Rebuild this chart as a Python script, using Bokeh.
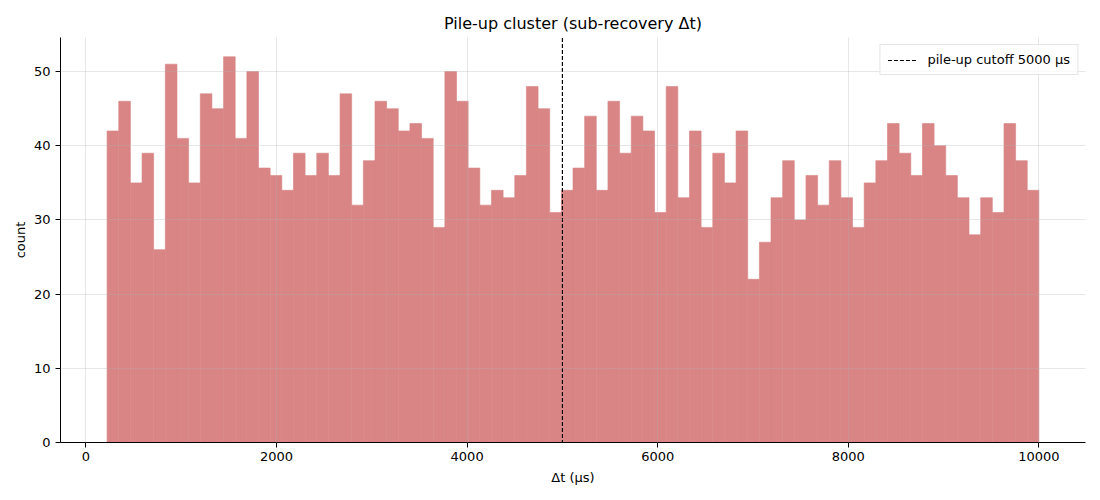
import numpy as np
from bokeh.plotting import figure
from bokeh.models import Range1d, FixedTicker, Legend, LegendItem
from bokeh.embed import file_html
from bokeh.resources import INLINE

# ---- data ----
counts = [42, 46, 35, 39, 26, 51, 41, 35, 47, 45,
          52, 41, 50, 37, 36, 34, 39, 36, 39, 36,
          47, 32, 38, 46, 45, 42, 43, 41, 29, 50,
          46, 37, 32, 34, 33, 36, 48, 45, 31, 34,
          37, 44, 34, 46, 39, 44, 42, 31, 48, 33,
          42, 29, 39, 35, 42, 22, 27, 33, 38, 30,
          36, 32, 38, 33, 29, 35, 38, 43, 39, 36,
          43, 40, 36, 33, 28, 33, 31, 43, 38, 34]
bin_start = 222.0
bin_end = 10000.0
cutoff = 5000
x_ticks = [0, 2000, 4000, 6000, 8000, 10000]
y_ticks = [0, 10, 20, 30, 40, 50]
title_text = "Pile-up cluster (sub-recovery Δt)"
x_label = "Δt (μs)"
y_label = "count"
legend_text = "pile-up cutoff 5000 μs"

edges = np.linspace(bin_start, bin_end, len(counts) + 1)
span = bin_end - bin_start
FONT = "DejaVu Sans"
BAR = "#d98585"

p = figure(width=1092, height=492, output_backend="svg", toolbar_location=None,
           x_range=Range1d(bin_start - 0.05 * span, bin_end + 0.05 * span),
           y_range=Range1d(0, max(counts) * 1.05),
           min_border_left=60, min_border_right=7, min_border_top=37, min_border_bottom=50)

p.quad(left=edges[:-1], right=edges[1:], bottom=0, top=counts,
       fill_color=BAR, line_color=BAR, line_width=0.6)

vl = p.line(x=[cutoff, cutoff], y=[-1000, 1000], line_color="black",
            line_width=1.2, line_dash="4 2")

# title
p.title.text = title_text
p.title.align = "center"
p.title.text_font = FONT
p.title.text_font_size = "16px"
p.title.text_font_style = "normal"
p.title.text_color = "black"

# outline / spines
p.outline_line_color = None
for ax in (p.xaxis[0], p.yaxis[0]):
    ax.axis_line_color = "black"
    ax.axis_line_width = 1
    ax.major_tick_line_color = "black"
    ax.major_tick_out = 5
    ax.major_tick_in = 0
    ax.minor_tick_out = 0
    ax.minor_tick_in = 0
    ax.major_label_text_font = FONT
    ax.major_label_text_font_size = "13px"
    ax.major_label_text_color = "black"
    ax.axis_label_text_font = FONT
    ax.axis_label_text_font_size = "13px"
    ax.axis_label_text_font_style = "normal"
    ax.axis_label_text_color = "black"

p.xaxis.ticker = FixedTicker(ticks=x_ticks)
p.yaxis.ticker = FixedTicker(ticks=y_ticks)
p.xaxis.axis_label = x_label
p.yaxis.axis_label = y_label
p.xaxis.major_label_standoff = 4
p.yaxis.major_label_standoff = 5
p.xaxis.axis_label_standoff = 6
p.yaxis.axis_label_standoff = 3

# grid drawn over bars like matplotlib
p.grid.grid_line_color = "#b0b0b0"
p.grid.grid_line_alpha = 0.3
p.grid.grid_line_width = 1
p.xgrid.ticker = FixedTicker(ticks=x_ticks)
p.ygrid.ticker = FixedTicker(ticks=y_ticks)
p.xgrid.level = "guide"
p.ygrid.level = "guide"

legend = Legend(items=[LegendItem(label=legend_text, renderers=[vl])],
                location="top_right")
legend.margin = 7
legend.padding = 7
legend.glyph_width = 30
legend.glyph_height = 12
legend.label_standoff = 10
legend.label_text_font = FONT
legend.label_text_font_size = "13px"
legend.label_text_color = "black"
legend.border_line_color = "#cccccc"
legend.border_line_width = 1
legend.background_fill_alpha = 0.8
legend.spacing = 0
p.add_layout(legend, "center")

open("out.html", "w").write(file_html(p, INLINE))
